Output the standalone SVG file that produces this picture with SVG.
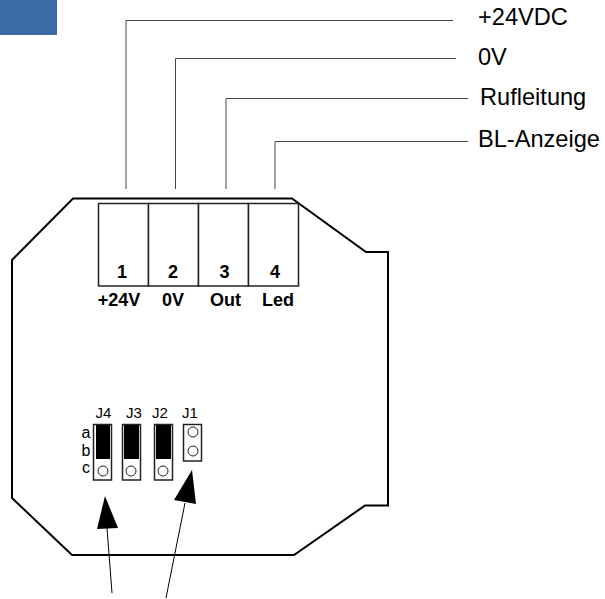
<svg xmlns="http://www.w3.org/2000/svg" width="605" height="599" viewBox="0 0 605 599">
<style>
text{font-family:"Liberation Sans",Arial,sans-serif;fill:#000}
.lbl{font-size:23.600px}
.t{font-size:18px;font-weight:bold;text-anchor:middle}
.j{font-size:15px;text-anchor:middle}
.s{font-size:16px;text-anchor:middle}
.lead{fill:none;stroke:#444;stroke-width:1}
.ptr{fill:none;stroke:#000;stroke-width:1}
.box{fill:#fff;stroke:#222;stroke-width:1.5}
.pad{fill:#fff;stroke:#222;stroke-width:1}
</style>
<rect id="corner" x="0" y="0" width="57" height="35" fill="#3c6ca6"/>
<g id="housing"><path d="M73 198.5H292L366 252H388V505.500H365L294 555H72L12 498V260Z" fill="#fff" stroke="#000" stroke-width="2"/></g>
<g id="connectors">
<path class="lead" d="M126 189V20.500H453"/>
<path class="lead" d="M175.500 189V58.500H456"/>
<path class="lead" d="M226 189V98.500H468"/>
<path class="lead" d="M275 189V141.500H468"/>
<path class="ptr" d="M107 528L112 593"/>
<path class="ptr" d="M185 503L166 598"/>
<path d="M105 496L97 529L118 528Z" fill="#000"/>
<path d="M192 470L174 500L196 504Z" fill="#000"/>
</g>
<g id="terminal-1"><rect class="box" x="98.500" y="203.500" width="50" height="82.500"/><text class="t" x="122" y="278">1</text><text class="t" x="119" y="306">+24V</text></g>
<g id="terminal-2"><rect class="box" x="148.500" y="203.500" width="50" height="82.500"/><text class="t" x="173" y="278">2</text><text class="t" x="173" y="306">0V</text></g>
<g id="terminal-3"><rect class="box" x="198.500" y="203.500" width="50" height="82.500"/><text class="t" x="224.500" y="278">3</text><text class="t" x="225.500" y="306">Out</text></g>
<g id="terminal-4"><rect class="box" x="248.500" y="203.500" width="50" height="82.500"/><text class="t" x="275" y="278">4</text><text class="t" x="278" y="306">Led</text></g>
<g id="label-24vdc"><text class="lbl" x="478" y="25">+24VDC</text></g>
<g id="label-0v"><text class="lbl" x="478" y="65">0V</text></g>
<g id="label-rufleitung"><text class="lbl" x="480" y="105">Rufleitung</text></g>
<g id="label-bl"><text class="lbl" x="478" y="147">BL-Anzeige</text></g>
<g id="abc"><text class="s" x="86" y="438">a</text><text class="s" x="86" y="456">b</text><text class="s" x="86" y="473">c</text></g>
<g id="j4"><text class="j" x="103.500" y="418">J4</text><rect class="box" x="93.500" y="424.500" width="18" height="55.500"/><rect x="96" y="425" width="14" height="34" fill="#000"/><circle class="pad" cx="103" cy="471" r="5"/></g>
<g id="j3"><text class="j" x="134" y="418">J3</text><rect class="box" x="122.500" y="424.500" width="18" height="55.500"/><rect x="124" y="425" width="15" height="34" fill="#000"/><circle class="pad" cx="131" cy="471" r="5"/></g>
<g id="j2"><text class="j" x="160" y="418">J2</text><rect class="box" x="154.500" y="424.500" width="18" height="55.500"/><rect x="156" y="425" width="15" height="34" fill="#000"/><circle class="pad" cx="163" cy="471" r="5"/></g>
<g id="j1"><text class="j" x="190" y="418">J1</text><rect class="box" x="183.500" y="424.500" width="18" height="36.500"/><circle class="pad" cx="193" cy="432" r="5"/><circle class="pad" cx="193" cy="451" r="5"/></g>
</svg>
